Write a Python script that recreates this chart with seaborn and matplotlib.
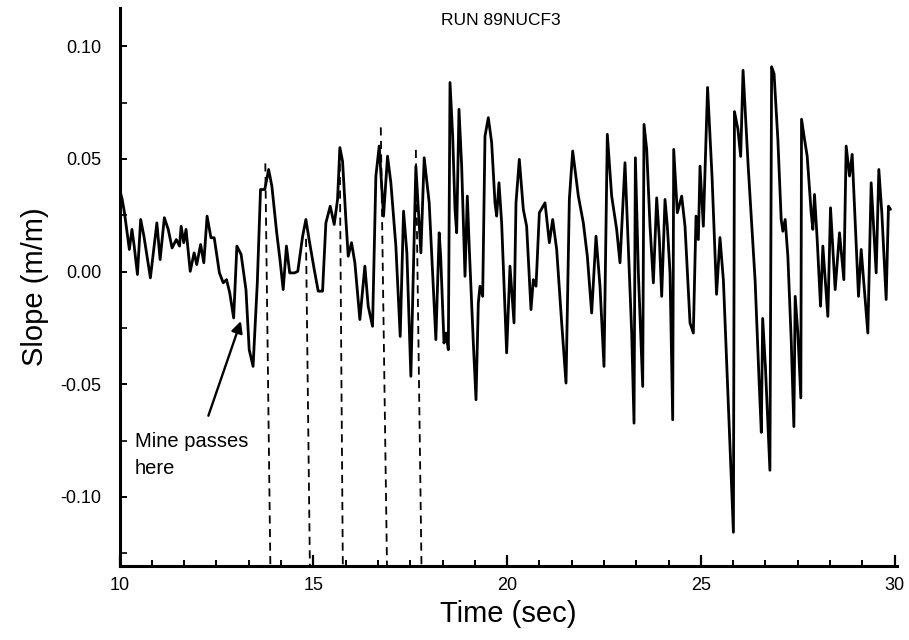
import pandas as pd
import matplotlib
matplotlib.use("Agg")
import matplotlib.pyplot as plt
from matplotlib.ticker import MultipleLocator
import seaborn as sns

# ---------------- dados ----------------
time_s = [10.000, 10.067, 10.125, 10.251, 10.318, 10.376, 10.460, 10.543, 10.627, 10.794,
          10.961, 11.045, 11.154, 11.254, 11.354, 11.463, 11.546, 11.588, 11.655, 11.714,
          11.822, 11.923, 11.990, 12.090, 12.173, 12.257, 12.357, 12.441, 12.575, 12.675,
          12.759, 12.842, 12.943, 13.026, 13.135, 13.260, 13.344, 13.444, 13.553, 13.636,
          13.745, 13.845, 13.929, 14.054, 14.138, 14.221, 14.305, 14.389, 14.514, 14.598,
          14.723, 14.807, 14.890, 15.022, 15.125, 15.237, 15.323, 15.435, 15.538, 15.624,
          15.684, 15.753, 15.839, 15.899, 15.985, 16.071, 16.200, 16.329, 16.415, 16.527,
          16.613, 16.699, 16.811, 16.914, 17.000, 17.129, 17.241, 17.327, 17.413, 17.516,
          17.645, 17.731, 17.774, 17.860, 17.989, 18.161, 18.247, 18.285, 18.371, 18.423,
          18.483, 18.526, 18.595, 18.655, 18.698, 18.758, 18.827, 18.913, 18.973, 19.025,
          19.128, 19.197, 19.257, 19.300, 19.369, 19.429, 19.515, 19.601, 19.687, 19.730,
          19.790, 19.859, 19.988, 20.074, 20.178, 20.229, 20.315, 20.418, 20.504, 20.616,
          20.677, 20.746, 20.832, 20.978, 21.090, 21.176, 21.279, 21.408, 21.520, 21.606,
          21.692, 21.838, 21.967, 22.070, 22.182, 22.294, 22.397, 22.500, 22.586, 22.698,
          22.827, 22.913, 23.042, 23.155, 23.215, 23.275, 23.310, 23.387, 23.499, 23.533,
          23.602, 23.688, 23.774, 23.860, 23.929, 23.989, 24.075, 24.135, 24.204, 24.273,
          24.299, 24.393, 24.505, 24.591, 24.720, 24.806, 24.875, 24.935, 24.978, 25.064,
          25.173, 25.289, 25.405, 25.493, 25.582, 25.689, 25.795, 25.840, 25.867, 25.955,
          26.027, 26.089, 26.222, 26.400, 26.506, 26.560, 26.595, 26.666, 26.782, 26.826,
          26.889, 26.987, 27.073, 27.116, 27.176, 27.245, 27.331, 27.400, 27.434, 27.503,
          27.580, 27.598, 27.675, 27.744, 27.847, 27.890, 27.933, 28.002, 28.088, 28.148,
          28.277, 28.346, 28.466, 28.578, 28.690, 28.750, 28.836, 28.905, 28.965, 29.068,
          29.137, 29.309, 29.395, 29.524, 29.593, 29.670, 29.782, 29.842, 29.894]

slope = [0.0364, 0.0320, 0.0261, 0.0098, 0.0187, 0.0113, -0.0013, 0.0231, 0.0157, -0.0028,
         0.0216, 0.0053, 0.0239, 0.0187, 0.0105, 0.0142, 0.0113, 0.0201, 0.0128, 0.0187,
         0.0001, 0.0083, 0.0031, 0.0120, 0.0039, 0.0246, 0.0150, 0.0150, -0.0006, -0.0050,
         -0.0036, -0.0095, -0.0206, 0.0113, 0.0076, -0.0080, -0.0347, -0.0421, -0.0050, 0.0364,
         0.0364, 0.0453, 0.0379, 0.0172, 0.0053, -0.0080, 0.0113, -0.0006, -0.0006, 0.0001,
         0.0157, 0.0231, 0.0142, 0.0009, -0.0087, -0.0087, 0.0216, 0.0290, 0.0209, 0.0320,
         0.0550, 0.0490, 0.0231, 0.0068, 0.0128, 0.0039, -0.0213, 0.0024, -0.0154, -0.0243,
         0.0424, 0.0557, 0.0246, 0.0512, 0.0394, 0.0113, -0.0288, 0.0268, 0.0083, -0.0465,
         0.0468, 0.0216, 0.0083, 0.0505, 0.0305, -0.0302, 0.0172, 0.0068, -0.0317, -0.0273,
         -0.0347, 0.0839, 0.0601, 0.0276, 0.0172, 0.0720, 0.0468, -0.0021, 0.0335, 0.0098,
         -0.0317, -0.0569, -0.0139, -0.0065, -0.0110, 0.0601, 0.0683, 0.0572, 0.0305, 0.0246,
         0.0394, 0.0216, -0.0361, 0.0024, -0.0228, 0.0305, 0.0498, 0.0276, 0.0201, -0.0169,
         -0.0036, -0.0065, 0.0261, 0.0305, 0.0128, 0.0231, 0.0098, -0.0228, -0.0495, 0.0320,
         0.0535, 0.0335, 0.0216, 0.0068, -0.0184, 0.0157, -0.0065, -0.0421, 0.0609, 0.0335,
         0.0187, 0.0039, 0.0483, -0.0006, -0.0273, -0.0673, 0.0505, -0.0006, -0.0510, 0.0653,
         0.0542, 0.0201, -0.0050, 0.0327, 0.0142, -0.0110, 0.0320, 0.0201, -0.0006, -0.0658,
         0.0542, 0.0261, 0.0335, 0.0201, -0.0228, -0.0273, 0.0246, 0.0142, 0.0468, 0.0201,
         0.0817, 0.0419, -0.0101, 0.0151, -0.0040, -0.0500, -0.0959, -0.1157, 0.0710, 0.0633,
         0.0511, 0.0893, 0.0465, -0.0040, -0.0500, -0.0714, -0.0208, -0.0423, -0.0882, 0.0909,
         0.0878, 0.0587, 0.0231, 0.0179, 0.0231, 0.0068, -0.0302, -0.0688, -0.0110, -0.0273,
         -0.0561, 0.0676, 0.0587, 0.0512, 0.0261, 0.0187, 0.0342, 0.0142, -0.0154, 0.0113,
         -0.0199, 0.0283, -0.0080, 0.0172, -0.0036, 0.0557, 0.0424, 0.0520, 0.0290, -0.0110,
         0.0098, -0.0273, 0.0394, -0.0006, 0.0453, 0.0261, -0.0124, 0.0290, 0.0276]

# linhas tracejadas: topo (tempo, valor) e tempo na base do eixo
dash_t_top = [13.76, 14.81, 15.68, 16.74, 17.645]
dash_v_top = [0.048, 0.0145, 0.054, 0.064, 0.054]
dash_t_bot = [13.89, 14.91, 15.76, 16.90, 17.79]

x_ticks = [10, 15, 20, 25, 30]
y_ticks = [0.10, 0.05, 0.00, -0.05, -0.10]
y_tick_labels = ["0.10", "0.05", "0.00", "-0.05", "-0.10"]

# seta "Mine passes here"
arrow_tail = (12.29, -0.064)
arrow_head = (13.13, -0.022)

df = pd.DataFrame({"time": time_s, "slope": slope})

sns.set_style("ticks")
plt.rcParams["font.family"] = ["Liberation Sans", "DejaVu Sans"]
plt.rcParams["axes.unicode_minus"] = False
for k in ["text.color", "axes.labelcolor", "xtick.color", "ytick.color"]:
    plt.rcParams[k] = "black"

fig = plt.figure(figsize=(9.09, 6.4), dpi=100)
ax = fig.add_axes([0.1316, 0.1156, 0.8547, 0.872])

y_min, y_max = -0.1307, 0.117

sns.lineplot(data=df, x="time", y="slope", color="black", linewidth=2.0,
             estimator=None, sort=False, ax=ax,
             solid_joinstyle="round", solid_capstyle="round")

for tt, vt, tb in zip(dash_t_top, dash_v_top, dash_t_bot):
    ax.plot([tt, tb], [vt, y_min], color="black", lw=1.3,
            linestyle=(0, (4.5, 3)), clip_on=False)

ax.annotate("", xy=arrow_head, xytext=arrow_tail,
            arrowprops=dict(arrowstyle="-|>", color="black", lw=1.7,
                            mutation_scale=17, shrinkA=0, shrinkB=0))
ax.text(10.4, -0.0712, "Mine passes\nhere", fontsize=14.5, ha="left", va="top",
        linespacing=1.55)

ax.text(0.49, 0.978, "RUN 89NUCF3", transform=ax.transAxes, fontsize=12.5,
        ha="center", va="center")

ax.set_xlim(10, 30.05)
ax.set_ylim(y_min, y_max)
ax.set_xticks(x_ticks)
ax.set_xticklabels([str(t) for t in x_ticks])
ax.xaxis.set_minor_locator(MultipleLocator(5 / 6))
ax.set_yticks(y_ticks)
ax.set_yticklabels(y_tick_labels)
ax.yaxis.set_minor_locator(MultipleLocator(0.025))

ax.tick_params(axis="x", which="major", direction="in", length=8, width=1.6,
               labelsize=13, pad=8)
ax.tick_params(axis="x", which="minor", direction="in", length=4.5, width=1.4)
ax.tick_params(axis="y", which="major", direction="in", length=5, width=1.4,
               labelsize=13, pad=13)
ax.tick_params(axis="y", which="minor", direction="in", length=5, width=1.2)

ax.set_xlabel("Time (sec)", fontsize=21, labelpad=4)
ax.set_ylabel("Slope (m/m)", fontsize=21, labelpad=8)

sns.despine(ax=ax)
for s in ["left", "bottom"]:
    ax.spines[s].set_linewidth(2.2)
    ax.spines[s].set_color("black")

fig.savefig("out.png", dpi=100)
